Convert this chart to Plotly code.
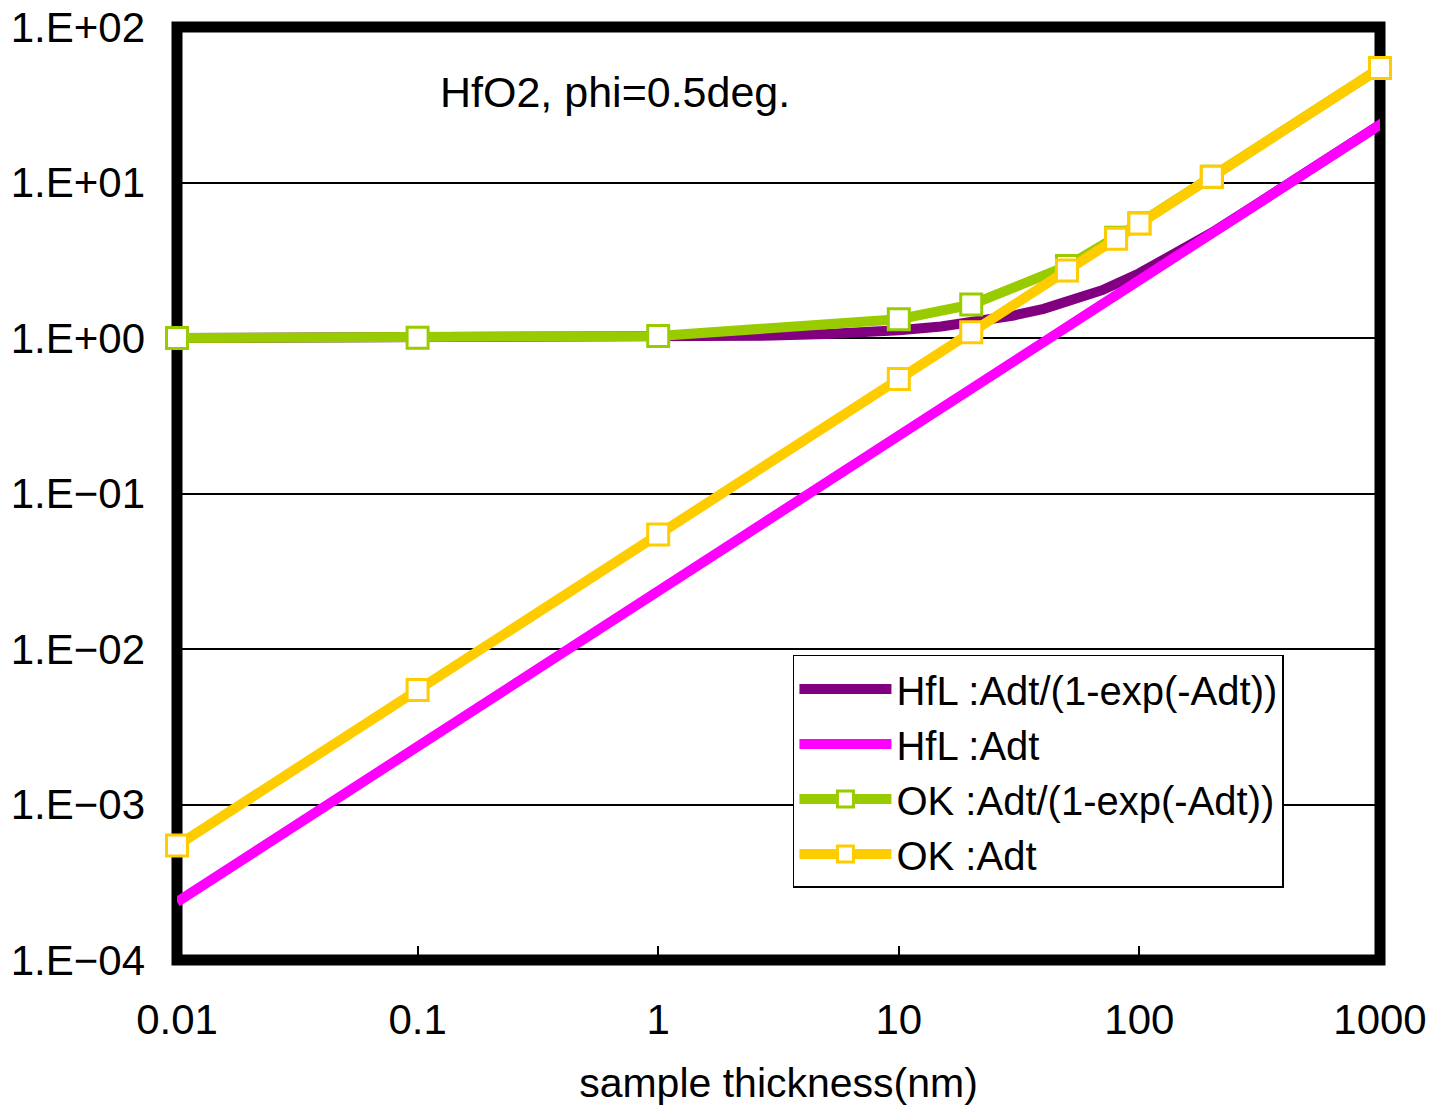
import plotly.graph_objects as go

# ---- data ----
hfl_x = [0.01, 0.02, 0.05, 0.1, 0.2, 0.5, 1, 2, 3, 5, 7, 10, 15, 20, 30, 40, 50, 70,
         100, 150, 200, 300, 500, 700, 1000, 1130]
hfl_adt = [2.36e-4, 4.72e-4, 1.18e-3, 2.36e-3, 4.72e-3, 1.18e-2, 0.0236, 0.0472, 0.0708,
           0.118, 0.165, 0.236, 0.354, 0.472, 0.708, 0.944, 1.18, 1.65,
           2.36, 3.54, 4.72, 7.08, 11.8, 16.5, 23.6, 26.6]
hfl_ratio = [1.0, 1.0, 1.001, 1.001, 1.002, 1.006, 1.012, 1.024, 1.036, 1.06, 1.084, 1.123,
             1.186, 1.255, 1.395, 1.54, 1.70, 2.03,
             2.61, 3.64, 4.76, 7.09, 11.8, 16.5, 23.6, 26.6]

ok_x = [0.01, 0.1, 1, 10, 20, 50, 80, 100, 200, 1000, 1130]
ok_adt = [5.44e-4, 5.44e-3, 0.0544, 0.544, 1.088, 2.72, 4.35, 5.44, 10.9, 54.4, 61.4]
ok_ratio = [1.0, 1.003, 1.03, 1.32, 1.64, 2.90, 4.42, 5.47, 10.9, 54.4, 61.4]

x_tickvals = [0.01, 0.1, 1, 10, 100, 1000]
x_ticktext = ["0.01", "0.1", "1", "10", "100", "1000"]
y_tickvals = [1e-4, 1e-3, 1e-2, 1e-1, 1e0, 1e1, 1e2]
y_ticktext = ["1.E\u221204", "1.E\u221203", "1.E\u221202", "1.E\u221201", "1.E+00", "1.E+01", "1.E+02"]

FONT = "Liberation Sans, Arial, sans-serif"

fig = go.Figure()
fig.add_trace(go.Scatter(x=hfl_x, y=hfl_ratio, mode="lines", name="HfL :Adt/(1-exp(-Adt))",
                         line=dict(color="#800080", width=10), cliponaxis=False))
fig.add_trace(go.Scatter(x=hfl_x, y=hfl_adt, mode="lines", name="HfL :Adt",
                         line=dict(color="#FF00FF", width=10), cliponaxis=False))
fig.add_trace(go.Scatter(x=ok_x, y=ok_ratio, mode="lines+markers", name="OK :Adt/(1-exp(-Adt))",
                         line=dict(color="#99CC00", width=10),
                         marker=dict(symbol="square", size=21, color="white",
                                     line=dict(color="#99CC00", width=3)),
                         cliponaxis=False))
fig.add_trace(go.Scatter(x=ok_x, y=ok_adt, mode="lines+markers", name="OK :Adt",
                         line=dict(color="#FFCC00", width=10),
                         marker=dict(symbol="square", size=21, color="white",
                                     line=dict(color="#FFCC00", width=3)),
                         cliponaxis=False))

fig.update_layout(
    width=1435, height=1112,
    margin=dict(l=177, r=55, t=27, b=152, autoexpand=False),
    paper_bgcolor="white", plot_bgcolor="white",
    font=dict(family=FONT, size=40, color="black"),
    showlegend=True,
    legend=dict(x=0.512, y=0.327, xanchor="left", yanchor="top",
                bgcolor="white", bordercolor="black", borderwidth=1.5,
                font=dict(size=40, family=FONT), tracegroupgap=0,
                itemwidth=92, entrywidth=515, entrywidthmode="pixels"),
    annotations=[dict(text="HfO2, phi=0.5deg.", xref="paper", yref="paper",
                      x=0.217, y=0.930, xanchor="left", yanchor="middle",
                      showarrow=False, font=dict(size=43, family=FONT))],
    shapes=[dict(type="rect", xref="paper", yref="paper", x0=0, x1=1, y0=0, y1=1,
                 line=dict(color="black", width=11), fillcolor="rgba(0,0,0,0)",
                 layer="below")],
)
fig.update_xaxes(type="log", range=[-2, 3], tickvals=x_tickvals, ticktext=x_ticktext,
                 automargin=False,
                 showgrid=False, zeroline=False, showline=False,
                 ticks="inside", ticklen=14, tickwidth=1.5, tickcolor="black",
                 tickfont=dict(size=42, family=FONT), ticklabelstandoff=31,
                 title=dict(text="sample thickness(nm)", font=dict(size=41, family=FONT), standoff=26))
fig.update_yaxes(type="log", range=[-4, 2], tickvals=y_tickvals, ticktext=y_ticktext,
                 automargin=False,
                 showgrid=True, gridcolor="black", gridwidth=1.5, zeroline=False,
                 showline=False, ticks="", tickfont=dict(size=42, family=FONT),
                 ticklabelstandoff=31)

fig.write_html("out.html")
